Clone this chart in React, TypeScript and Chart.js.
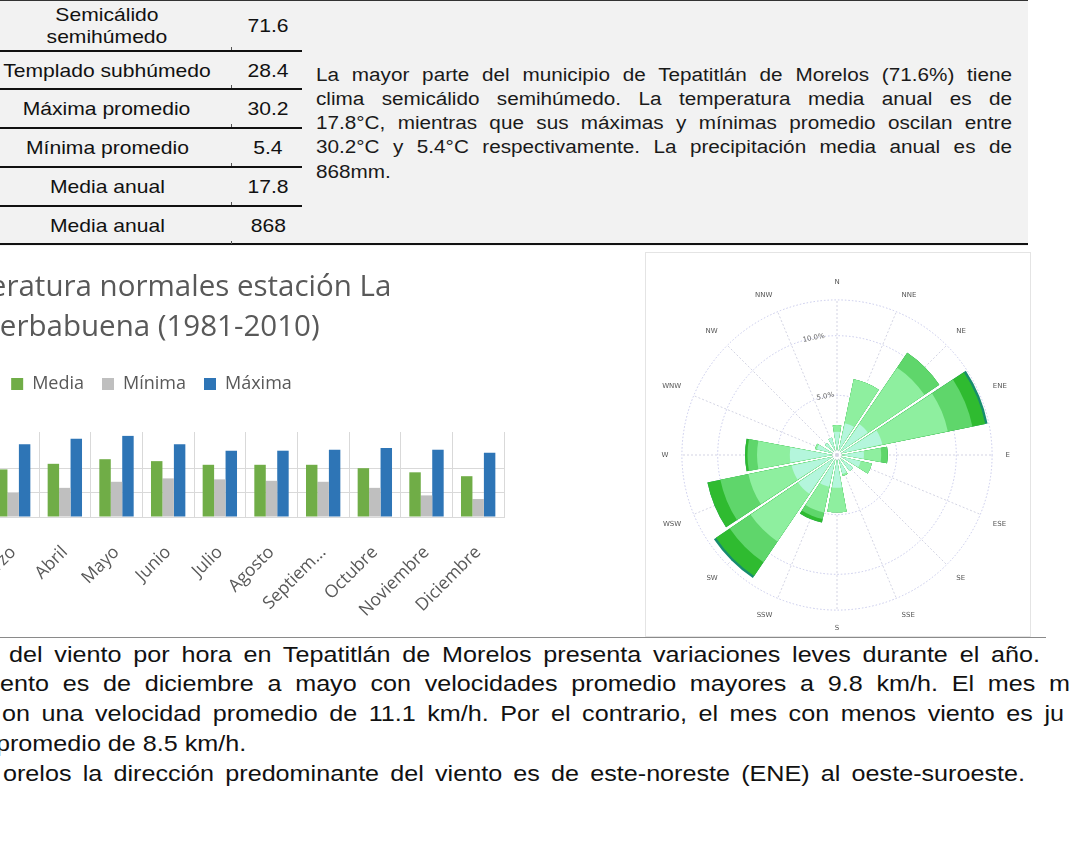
import React, { useEffect, useRef } from 'react';
import { Chart, registerables } from 'chart.js';

Chart.register(...registerables);

// ---------- Bar chart data ----------
const months = ['Enero', 'Febrero', 'Marzo', 'Abril', 'Mayo', 'Junio', 'Julio', 'Agosto', 'Septiembre', 'Octubre', 'Noviembre', 'Diciembre'];
const mediaTemp = [16.0, 17.5, 19.6, 21.9, 23.8, 23.0, 21.5, 21.5, 21.5, 20.1, 18.4, 16.8];
const minimaTemp = [6.5, 7.5, 9.9, 12.0, 14.5, 15.9, 15.5, 14.9, 14.5, 12.0, 8.9, 7.4];
const maximaTemp = [26.5, 28.3, 30.0, 32.2, 33.4, 30.0, 27.3, 27.3, 27.7, 28.4, 27.7, 26.5];
const seriesNames = ['Media', 'Mínima', 'Máxima'];
const barTitle = ['Temperatura normales estación La', 'Yerbabuena (1981-2010)'];

// ---------- Wind rose data (frequency % per speed band) ----------
const directions = ['N', 'NNE', 'NE', 'ENE', 'E', 'ESE', 'SE', 'SSE', 'S', 'SSW', 'SW', 'WSW', 'W', 'WNW', 'NW', 'NNW'];
const band1 = [1.2, 2.0, 2.45, 3.15, 1.5, 1.3, 0.95, 0.9, 2.0, 2.0, 3.25, 3.15, 3.2, 1.0, 0.55, 0.75];
const band2 = [0.55, 3.75, 5.7, 5.6, 1.45, 0.95, 0, 0.15, 2.05, 2.2, 4.8, 3.7, 2.75, 0.15, 0, 0];
const band3 = [0, 0, 1.5, 2.1, 0.55, 0, 0, 0, 0, 0.55, 2.1, 2.4, 0.8, 0, 0, 0];
const band4 = [0, 0, 0, 1.1, 0, 0, 0, 0, 0, 0.3, 1.4, 1.1, 0.2, 0, 0, 0];
const band5 = [0, 0, 0, 0.2, 0, 0, 0, 0, 0, 0, 0.2, 0, 0, 0, 0, 0];
const bandNames = ['Banda 1', 'Banda 2', 'Banda 3', 'Banda 4', 'Banda 5'];

// ---------- Text content ----------
const tableLabels = [['Semicálido', 'semihúmedo'], ['Templado subhúmedo'], ['Máxima promedio'], ['Mínima promedio'], ['Media anual'], ['Media anual']];
const tableValues = ['71.6', '28.4', '30.2', '5.4', '17.8', '868'];
const topParagraph = [
  'La mayor parte del municipio de Tepatitlán de Morelos (71.6%) tiene',
  'clima semicálido semihúmedo. La temperatura media anual es de',
  '17.8°C, mientras que sus máximas y mínimas promedio oscilan entre',
  '30.2°C y 5.4°C respectivamente. La precipitación media anual es de',
  '868mm.',
];
const bottomLines = [
  'del viento por hora en Tepatitlán de Morelos presenta variaciones leves durante el año.',
  'ento es de diciembre a mayo con velocidades promedio mayores a 9.8 km/h. El mes m',
  'on una velocidad promedio de 11.1 km/h. Por el contrario, el mes con menos viento es ju',
  'promedio de 8.5 km/h.',
  'orelos la dirección predominante del viento es de este-noreste (ENE) al oeste-suroeste.',
];

// ---------- Styles ----------
const barColors = ['#70AD47', '#BFBFBF', '#2E75B6'];
const bandColors = ['#b4f6dc', '#8eef9f', '#5fd66b', '#2fbb30', '#178c6e'];
const axisGray = '#595959';

function BarChart() {
  const ref = useRef<HTMLCanvasElement>(null);
  useEffect(() => {
    const values = [mediaTemp, minimaTemp, maximaTemp];
    const spacer = { display: true, text: '', weight: 500, font: { size: 2, lineHeight: 1 }, padding: { top: 0, bottom: 27 } };
    const chart = new Chart(ref.current as HTMLCanvasElement, {
      type: 'bar',
      data: {
        labels: months,
        datasets: seriesNames.map((name, i) => ({
          label: name,
          data: values[i],
          backgroundColor: barColors[i],
          borderWidth: 0,
          categoryPercentage: 0.665,
          barPercentage: 1.0,
        })),
      },
      options: {
        responsive: false,
        animation: false,
        events: [],
        layout: { padding: { left: 7, right: 15, top: 0, bottom: 0 } },
        plugins: {
          title: {
            display: true,
            text: barTitle,
            color: axisGray,
            font: { family: 'Open Sans', size: 29.5, weight: 'normal', lineHeight: 1.339 },
            padding: { top: 6, bottom: 10 },
          },
          subtitle: spacer as any,
          legend: {
            position: 'top',
            labels: {
              boxWidth: 12,
              boxHeight: 12,
              color: axisGray,
              font: { family: 'Open Sans', size: 18 },
              padding: 18,
            },
          },
          tooltip: { enabled: false },
        },
        scales: {
          x: {
            grid: { offset: true, color: '#D9D9D9', drawTicks: false },
            border: { color: '#D9D9D9' },
            ticks: {
              autoSkip: false,
              minRotation: 45,
              maxRotation: 45,
              color: axisGray,
              padding: 25,
              font: { family: 'Open Sans', size: 17.5 },
              callback: (_v: any, i: number) => {
                const l = months[i];
                return l.length > 9 ? l.slice(0, 7) + '...' : l;
              },
            },
            afterFit: (s: any) => { s.height = 115; },
          },
          y: {
            min: 0,
            max: 35,
            ticks: { stepSize: 10, color: axisGray, font: { family: 'Open Sans', size: 14 } },
            grid: {
              drawTicks: false,
              color: (c: any) => (c.tick && c.tick.value === 35 ? 'rgba(0,0,0,0)' : '#D9D9D9'),
            },
            border: { display: false },
            afterFit: (s: any) => { s.width = 85; },
          },
        },
      },
    });
    return () => chart.destroy();
  }, []);
  return (
    <canvas
      ref={ref}
      width={727}
      height={370}
      style={{ position: 'absolute', left: -208, top: 262, width: 727, height: 370 }}
    />
  );
}

const spokesPlugin = {
  id: 'spokes',
  beforeDatasetsDraw(chart: any) {
    const s = chart.scales.r;
    const ctx = chart.ctx;
    const n = chart.data.labels.length;
    ctx.save();
    ctx.strokeStyle = '#d3d4e3';
    ctx.lineWidth = 1;
    ctx.setLineDash([2, 2]);
    for (let i = 0; i < n; i++) {
      const p = s.getPointPosition(i, s.drawingArea, Math.PI / n);
      ctx.beginPath();
      ctx.moveTo(s.xCenter, s.yCenter);
      ctx.lineTo(p.x, p.y);
      ctx.stroke();
    }
    ctx.restore();
  },
};

function WindRose() {
  const ref = useRef<HTMLCanvasElement>(null);
  useEffect(() => {
    const bands = [band1, band2, band3, band4, band5];
    const cumulative = bands.map((_, b) =>
      directions.map((_, i) => bands.slice(0, b + 1).reduce((sum, arr) => sum + arr[i], 0))
    );
    const chart = new Chart(ref.current as HTMLCanvasElement, {
      type: 'polarArea',
      data: {
        labels: directions,
        datasets: cumulative.map((data, b) => ({
          label: bandNames[b],
          data,
          backgroundColor: bandColors[b],
          borderWidth: 0,
          offset: 18,
        })) as any,
      },
      options: {
        responsive: false,
        animation: false,
        events: [],
        layout: { padding: { top: 25, bottom: 3, left: 4, right: 7 } },
        plugins: { legend: { display: false }, tooltip: { enabled: false } },
        scales: {
          r: {
            min: 0,
            max: 13,
            startAngle: -11.25,
            ticks: {
              stepSize: 5,
              showLabelBackdrop: false,
              color: '#666',
              font: { family: 'DejaVu Sans', size: 7 },
              callback: (v: any) => (v === 5 || v === 10 ? Number(v).toFixed(1) + '%' : ''),
            },
            grid: { circular: true, color: '#c6c8ea', lineWidth: 1 },
            border: { dash: [1.5, 2] },
            angleLines: { display: false },
            pointLabels: {
              display: true,
              centerPointLabels: true,
              color: '#555',
              padding: 8,
              font: { family: 'DejaVu Sans', size: 7 },
            },
          },
        },
      } as any,
      plugins: [spokesPlugin],
    });
    return () => chart.destroy();
  }, []);
  return <canvas ref={ref} width={384} height={383} style={{ display: 'block', width: 384, height: 383 }} />;
}

function Line({ text, left, top, width, size, lh, sx, justify, color }: any) {
  return (
    <div
      style={{
        position: 'absolute',
        left,
        top,
        width: width ? width / sx : undefined,
        whiteSpace: width ? 'normal' : 'nowrap',
        fontSize: size,
        lineHeight: lh + 'px',
        color,
        textAlign: justify ? 'justify' : 'left',
        textAlignLast: justify ? 'justify' : 'left',
        transform: `scaleX(${sx})`,
        transformOrigin: '0 0',
      } as any}
    >
      {text}
    </div>
  );
}

export default function App() {
  const rowLines = [50, 88, 127, 166, 205, 244];
  const rowTops = [0, 51, 89, 128, 167, 206];
  const topLineTops = [63.5, 87.8, 112.1, 136.4, 160.7];
  const bottomTops = [640.5, 670.3, 700.3, 730.1, 760.0];
  const bottomLeft = [9, 0, 2, -4, 3];
  const bottomRight = [1040, 1070, 1064, 0, 1025];
  return (
    <div
      style={{
        position: 'absolute',
        left: 0,
        top: 0,
        width: 1072,
        height: 853,
        overflow: 'hidden',
        background: '#fff',
        fontFamily: '"Liberation Sans", Arial, sans-serif',
      }}
    >
      {/* top band */}
      <div style={{ position: 'absolute', left: 0, top: 0, width: 1028, height: 245, background: '#f2f2f2', borderTop: '1px solid #333' }} />
      <div style={{ position: 'absolute', left: 0, top: 243, width: 1028, height: 2, background: '#111' }} />
      {rowLines.slice(0, 5).map((y, i) => (
        <div key={'rl' + i} style={{ position: 'absolute', left: 0, top: y, width: 302, height: 2, background: '#111' }} />
      ))}
      {rowLines.map((y, i) => (
        <div key={'tk' + i} style={{ position: 'absolute', left: 231, top: y - 3, width: 1, height: 3, background: '#555' }} />
      ))}
      {tableLabels.map((lines, i) => {
        const top = rowTops[i];
        const h = rowLines[i] - top;
        return (
          <React.Fragment key={'row' + i}>
            <div style={{ position: 'absolute', left: 0, top: top + 1, width: 214, height: h, display: 'flex', alignItems: 'center', justifyContent: 'center' }}>
              <div style={{ fontSize: 18.5, lineHeight: lines.length > 1 ? '21.7px' : '22px', color: '#111', textAlign: 'center', transform: 'scaleX(1.14)', whiteSpace: 'nowrap' }}>
                {lines.map((l, k) => <div key={k}>{l}</div>)}
              </div>
            </div>
            <div style={{ position: 'absolute', left: 236, top: top + 1, width: 64, height: h, display: 'flex', alignItems: 'center', justifyContent: 'center' }}>
              <div style={{ fontSize: 18.5, lineHeight: '22px', color: '#111', transform: 'scaleX(1.14)' }}>{tableValues[i]}</div>
            </div>
          </React.Fragment>
        );
      })}
      {topParagraph.map((t, i) => (
        <Line key={'tp' + i} text={t} left={316} top={topLineTops[i]} width={i < 4 ? 696 : 0} size={18} lh={23.6} sx={1.15} justify={i < 4} color="#1a1a1a" />
      ))}

      {/* bar chart */}
      <BarChart />

      {/* wind rose */}
      <div style={{ position: 'absolute', left: 645, top: 252, width: 384, height: 383, border: '1px solid #e4e4e4', background: '#fff' }}>
        <WindRose />
      </div>

      <div style={{ position: 'absolute', left: 0, top: 637, width: 1046, height: 1, background: '#8a8a8a' }} />

      {bottomLines.map((t, i) => (
        <Line
          key={'bl' + i}
          text={t}
          left={bottomLeft[i]}
          top={bottomTops[i]}
          width={bottomRight[i] ? bottomRight[i] - bottomLeft[i] : 0}
          size={21.5}
          lh={29.8}
          sx={1.17}
          justify={!!bottomRight[i]}
          color="#111"
        />
      ))}
    </div>
  );
}
